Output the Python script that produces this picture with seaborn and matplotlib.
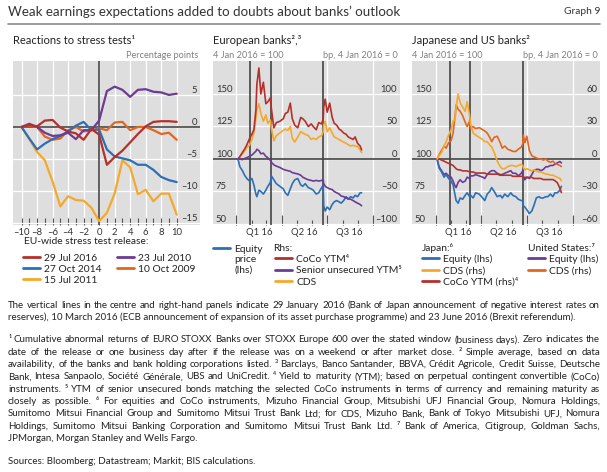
import matplotlib
matplotlib.use("Agg")
import matplotlib.pyplot as plt
import matplotlib.dates as mdates
from matplotlib.lines import Line2D
import numpy as np
import pandas as pd
import seaborn as sns

# ---------------- data ----------------
window_days = list(range(-10, 11))
rel_2016 = [0.0, 0.3, 0.1, 1.0, 1.1, -0.1, -0.7, -1.0, -2.0, -0.3, -1.2, -5.9, -4.7, -3.7, -2.4, -1.1, 0.1, 0.8, 0.9, 0.9, 0.8]
rel_2010 = [0.0, 0.5, 0.0, -0.9, -1.4, -1.3, -0.9, -1.9, -0.5, -0.5, 1.0, 5.6, 6.3, 5.8, 4.7, 5.8, 5.9, 5.5, 5.4, 5.0, 5.2]
rel_2014 = [0.0, -1.8, -3.5, -2.6, -1.9, -1.4, -0.7, 0.2, 0.8, -0.5, -0.4, -3.5, -4.6, -4.9, -5.2, -5.9, -5.9, -6.7, -7.8, -8.3, -8.6]
rel_2009 = [0.0, 0.2, 0.0, -1.5, -2.0, -1.8, -0.5, 0.0, -0.7, -0.5, -0.2, -0.5, 0.7, 0.8, -0.5, 0.0, 0.0, -0.5, -1.1, -0.9, -2.0]
rel_2011 = [0.0, -1.9, -3.9, -5.2, -8.5, -12.4, -10.8, -11.4, -11.5, -12.6, -14.7, -13.4, -10.4, -5.2, -6.3, -10.5, -9.8, -11.6, -10.4, -10.4, -13.7]

dates = ['2016-01-04', '2016-01-08', '2016-01-13', '2016-01-18', '2016-01-22', '2016-01-27',
         '2016-02-01', '2016-02-05', '2016-02-09', '2016-02-11', '2016-02-15', '2016-02-19', '2016-02-24', '2016-02-29',
         '2016-03-04', '2016-03-09', '2016-03-11', '2016-03-16', '2016-03-21', '2016-03-28',
         '2016-04-04', '2016-04-08', '2016-04-13', '2016-04-18', '2016-04-22', '2016-04-27',
         '2016-05-03', '2016-05-09', '2016-05-13', '2016-05-18', '2016-05-24', '2016-05-30',
         '2016-06-03', '2016-06-09', '2016-06-14', '2016-06-20', '2016-06-23', '2016-06-24', '2016-06-27',
         '2016-07-01', '2016-07-06', '2016-07-11', '2016-07-15', '2016-07-20', '2016-07-25', '2016-07-29',
         '2016-08-03', '2016-08-08', '2016-08-12', '2016-08-17', '2016-08-22', '2016-08-26', '2016-08-31',
         '2016-09-05', '2016-09-08']

# European banks
eu_equity = [100, 94, 91, 87, 85, 83,
             85, 80, 73, 71, 76, 75, 73, 76,
             79, 82, 87, 84, 81, 79,
             77, 74, 72, 77, 81, 84,
             85, 80, 79, 81, 78, 77,
             76, 73, 74, 78, 80, 64, 60,
             63, 61, 65, 67, 68, 67, 66,
             68, 71, 69, 71, 70, 72, 71,
             74, 74]
eu_coco = [0, 4, 10, 16, 22, 31,
           38, 45, 75, 115, 140, 100, 118, 85,
           88, 94, 78, 48, 56, 58,
           62, 70, 72, 86, 62, 52,
           48, 64, 62, 58, 50, 54,
           50, 45, 56, 54, 62, 80, 92,
           72, 86, 64, 55, 52, 46, 44,
           40, 38, 34, 32, 30, 34, 24,
           20, 14]
eu_senior = [0, 0, -1, 1, 2, 4,
             6, 9, 12, 15, 13, 8, 9, 4,
             2, -2, -5, -9, -11, -13,
             -16, -17, -18, -19, -21, -22,
             -23, -25, -28, -30, -32, -33,
             -34, -33, -34, -33, -32, -38, -42,
             -44, -46, -47, -50, -52, -54, -57,
             -58, -60, -61, -62, -64, -66, -68,
             -70, -72]
eu_cds = [0, 3, 8, 13, 18, 21,
          30, 40, 62, 75, 85, 70, 58, 68,
          55, 60, 48, 28, 36, 40,
          44, 46, 44, 50, 32, 26,
          34, 42, 40, 38, 36, 30,
          32, 30, 34, 36, 42, 52, 58,
          42, 48, 40, 34, 32, 30, 28,
          26, 24, 22, 20, 21, 20, 19,
          14, 10]

# Japanese and US banks
jp_equity = [100, 93, 90, 86, 88, 85,
             83, 80, 72, 68, 66, 70, 69, 72,
             74, 71, 72, 70, 74, 73,
             70, 68, 73, 75, 78, 75,
             71, 72, 70, 73, 71, 74,
             72, 71, 69, 68, 68, 64, 63,
             61, 58, 60, 64, 70, 71, 70,
             70, 71, 71, 73, 71, 74, 74,
             76, 79]
jp_cds = [0, 3, 6, 12, 16, 22,
          27, 35, 36, 48, 60, 52, 48, 44,
          53, 40, 32, 24, 22, 20,
          18, 16, 16, 13, 11, 6,
          -2, -7, -9, -9, -7, -6,
          -6, -7, -6, -5, -6, -8, -10,
          -9, -10, -11, -10, -11, -12, -12,
          -13, -14, -14, -15, -15, -16, -17,
          -18, -20]
jp_coco = [0, 0, -1, -2, -3, -4,
           -5, -6, -8, -9, -10, -10, -11, -11,
           -11, -12, -12, -12, -13, -13,
           -13, -13, -14, -14, -14, -14,
           -14, -15, -15, -15, -15, -15,
           -16, -16, -16, -16, -16, -17, -17,
           -17, -17, -17, -18, -18, -18, -18,
           -19, -19, -19, -19, -19, -20, -22,
           -27, -31]
us_equity = [100, 94, 91, 88, 89, 87,
             86, 83, 79, 78, 82, 84, 82, 83,
             86, 85, 87, 87, 88, 87,
             86, 85, 88, 90, 91, 91,
             89, 88, 88, 89, 90, 91,
             89, 89, 87, 89, 91, 86, 84,
             86, 85, 88, 91, 92, 92, 91,
             92, 94, 94, 95, 95, 96, 97,
             98, 97]
us_cds = [0, 4, 8, 12, 10, 15,
          17, 24, 40, 50, 46, 44, 40, 34,
          30, 35, 28, 30, 28, 29,
          27, 26, 24, 20, 16, 20,
          21, 15, 10, 12, 9, 8,
          7, 7, 9, 11, 14, 22, 15,
          21, 8, 3, 2, 1, 0, 0,
          -1, 0, -2, -3, -2, -4, -5,
          -6, -7]

event_dates = ['2016-01-29', '2016-03-10', '2016-06-23']
quarter_starts = ['2016-01-01', '2016-04-01', '2016-07-01', '2016-10-01']
month_starts = ['2016-01-01', '2016-02-01', '2016-03-01', '2016-04-01', '2016-05-01', '2016-06-01',
                '2016-07-01', '2016-08-01', '2016-09-01', '2016-10-01']
quarter_mids = ['2016-02-15', '2016-05-16', '2016-08-15']
quarter_labels = ['Q1 16', 'Q2 16', 'Q3 16']

# ---------------- style ----------------
sns.set_theme(style="white")
plt.rcParams["font.family"] = ["Lato", "DejaVu Sans"]
plt.rcParams["axes.unicode_minus"] = False

RED = '#b4302b'
PURPLE = '#6c3b96'
BLUE = '#2d6fb7'
ORANGE = '#e3661f'
GOLD = '#f5a82a'
BG = '#dedede'
TXT = '#333333'
SUB = '#808080'
TICKFS = 6.8
LEGFS = 7.4

W, H = 607, 472
fig = plt.figure(figsize=(W / 100, H / 100), dpi=100)


def fx(x):
    return x / W


def fy(y):
    return 1 - y / H


def rect(x0, y0, x1, y1):
    return [fx(x0), fy(y1), (x1 - x0) / W, (y1 - y0) / H]


def base_style(ax):
    ax.set_facecolor(BG)
    for s in ax.spines.values():
        s.set_visible(False)
    ax.set_axisbelow(True)
    ax.grid(True, which='major', color='white', linewidth=0.9)
    ax.set_xlabel('')
    ax.set_ylabel('')


def dash(v):
    return str(v).replace('-', '\u2013')


# ---------------- panel 1 ----------------
ax1 = fig.add_axes(rect(13, 61, 200, 225))
stress = {"15 Jul 2011": rel_2011, "10 Oct 2009": rel_2009, "27 Oct 2014": rel_2014,
          "23 Jul 2010": rel_2010, "29 Jul 2016": rel_2016}
pal1 = {"15 Jul 2011": GOLD, "10 Oct 2009": ORANGE, "27 Oct 2014": BLUE,
        "23 Jul 2010": PURPLE, "29 Jul 2016": RED}
df1 = pd.concat([pd.DataFrame({"day": window_days, "value": v, "release": k}) for k, v in stress.items()])
sns.lineplot(data=df1, x="day", y="value", hue="release", hue_order=list(stress), palette=pal1,
             estimator=None, linewidth=1.6, legend=False, ax=ax1)
base_style(ax1)
ax1.set_xlim(-11.1, 13.0)
ax1.set_ylim(-15.3, 10.3)
ax1.set_xticks(range(-10, 11, 2))
ax1.set_xticklabels([dash(v) for v in range(-10, 11, 2)])
ax1.set_xticks(range(-10, 11), minor=True)
ax1.tick_params(axis='x', which='both', direction='in', length=5, width=0.8, color='#555555',
                pad=2.5, labelsize=TICKFS, labelcolor=TXT, bottom=True)
ax1.yaxis.tick_right()
ax1.set_yticks([-15, -10, -5, 0, 5])
ax1.set_yticklabels([dash(v) for v in [-15, -10, -5, 0, 5]])
ax1.tick_params(axis='y', length=0, pad=-2, labelsize=TICKFS, labelcolor=TXT)
for t in ax1.get_yticklabels():
    t.set_ha('right')
    t.set_va('bottom')
ax1.axhline(0, color='#555555', lw=1.3, zorder=1.5)
ax1.axvline(0, color='#555555', lw=1.3, zorder=1.5)


# ---------------- panels 2 & 3 ----------------
def date_panel(ax, axr, rlim, rticks):
    base_style(ax)
    for s in axr.spines.values():
        s.set_visible(False)
    axr.grid(False)
    axr.set_xlabel('')
    axr.set_ylabel('')
    ax.set_xlim(mdates.date2num(pd.Timestamp('2015-11-15')), mdates.date2num(pd.Timestamp('2016-11-24')))
    ax.set_ylim(49.2, 175.4)
    axr.set_ylim(*rlim)
    ax.set_xticks(mdates.date2num(pd.to_datetime(quarter_starts)))
    ax.set_xticks(mdates.date2num(pd.to_datetime(month_starts)), minor=True)
    ax.tick_params(axis='x', which='major', direction='in', length=7, width=0.8, color='#555555',
                   labelbottom=False, bottom=True)
    ax.tick_params(axis='x', which='minor', direction='in', length=3.5, width=0.8, color='#555555',
                   labelbottom=False, bottom=True)
    ax.set_yticks([50, 75, 100, 125, 150])
    ax.set_yticklabels(['50', '75', '100', '125', '150'])
    ax.tick_params(axis='y', length=0, pad=-2, labelsize=TICKFS, labelcolor=TXT)
    for t in ax.get_yticklabels():
        t.set_ha('left')
        t.set_va('bottom')
    axr.set_yticks(rticks)
    axr.set_yticklabels([dash(v) for v in rticks])
    axr.tick_params(axis='y', length=0, pad=-2, labelsize=TICKFS, labelcolor=TXT)
    for t in axr.get_yticklabels():
        t.set_ha('right')
        t.set_va('bottom')
    ax.axhline(100, color='#444444', lw=1.2, zorder=1.5)
    for d in event_dates:
        ax.axvline(mdates.date2num(pd.Timestamp(d)), color='#444444', lw=1.2, zorder=1.5)
    for d, s in zip(quarter_mids, quarter_labels):
        ax.text(mdates.date2num(pd.Timestamp(d)), -7.5 / 164, s, transform=ax.get_xaxis_transform(),
                ha='center', va='center', fontsize=TICKFS, color=TXT)


dt = pd.to_datetime(dates)

ax2 = fig.add_axes(rect(213, 61, 400, 225))
ax2r = ax2.twinx()
eu_l = pd.DataFrame({"date": dt, "value": eu_equity})
sns.lineplot(data=eu_l, x="date", y="value", color=BLUE, linewidth=1.2, estimator=None, ax=ax2)
eu_r_series = {"CDS": eu_cds, "CoCo YTM": eu_coco, "Senior unsecured YTM": eu_senior}
eu_r = pd.concat([pd.DataFrame({"date": dt, "value": v, "series": k}) for k, v in eu_r_series.items()])
sns.lineplot(data=eu_r, x="date", y="value", hue="series", hue_order=list(eu_r_series),
             palette={"CDS": GOLD, "CoCo YTM": RED, "Senior unsecured YTM": PURPLE},
             linewidth=1.2, estimator=None, legend=False, ax=ax2r)
date_panel(ax2, ax2r, (-101.6, 150.8), [-100, -50, 0, 50, 100])

ax3 = fig.add_axes(rect(412, 61, 600, 225))
ax3r = ax3.twinx()
lhs3 = {"US equity": us_equity, "Japan equity": jp_equity}
df3l = pd.concat([pd.DataFrame({"date": dt, "value": v, "series": k}) for k, v in lhs3.items()])
sns.lineplot(data=df3l, x="date", y="value", hue="series", hue_order=list(lhs3),
             palette={"US equity": PURPLE, "Japan equity": BLUE},
             linewidth=1.2, estimator=None, legend=False, ax=ax3)
rhs3 = {"Japan CoCo YTM": jp_coco, "US CDS": us_cds, "Japan CDS": jp_cds}
df3r = pd.concat([pd.DataFrame({"date": dt, "value": v, "series": k}) for k, v in rhs3.items()])
sns.lineplot(data=df3r, x="date", y="value", hue="series", hue_order=list(rhs3),
             palette={"Japan CoCo YTM": RED, "US CDS": ORANGE, "Japan CDS": GOLD},
             linewidth=1.2, estimator=None, legend=False, ax=ax3r)
date_panel(ax3, ax3r, (-60.96, 90.48), [-60, -30, 0, 30, 60])

# ---------------- titles ----------------
fig.text(fx(8), fy(12), "Weak earnings expectations added to doubts about banks\u2019 outlook",
         fontsize=9.6, color=TXT, va='center', ha='left')
fig.text(fx(600), fy(12), "Graph 9", fontsize=7.4, color=TXT, va='center', ha='right')
fig.add_artist(Line2D([fx(8), fx(600)], [fy(24), fy(24)], color='#8a8a8a', lw=1.2))

fig.text(fx(13), fy(40), "Reactions to stress tests\u00b9", fontsize=8.0, color='#222222', va='center')
fig.text(fx(213), fy(40), "European banks\u00b2,\u00b3", fontsize=8.0, color='#222222', va='center')
fig.text(fx(412), fy(40), "Japanese and US banks\u00b2", fontsize=8.0, color='#222222', va='center')

fig.text(fx(198), fy(55), "Percentage points", fontsize=6.6, color=SUB, va='center', ha='right')
fig.text(fx(213), fy(55), "4 Jan 2016 = 100", fontsize=6.6, color=SUB, va='center', ha='left')
fig.text(fx(398), fy(55), "bp, 4 Jan 2016 = 0", fontsize=6.6, color=SUB, va='center', ha='right')
fig.text(fx(412), fy(55), "4 Jan 2016 = 100", fontsize=6.6, color=SUB, va='center', ha='left')
fig.text(fx(598), fy(55), "bp, 4 Jan 2016 = 0", fontsize=6.6, color=SUB, va='center', ha='right')


# ---------------- legends ----------------
def leg(color, label, x, y):
    h = Line2D([], [], color=color, lw=2.0)
    fig.legend([h], [label], loc='center left', bbox_to_anchor=(fx(x), fy(y)), frameon=False,
               borderpad=0, borderaxespad=0, handlelength=1.65, handletextpad=0.4,
               fontsize=LEGFS, labelcolor='#222222')


def ftxt(x, y, s, **kw):
    fig.text(fx(x), fy(y), s, fontsize=kw.pop('fontsize', LEGFS), color=kw.pop('color', '#222222'),
             va='center', ha='left', **kw)


ftxt(24, 242, "EU-wide stress test release:")
leg(RED, "29 Jul 2016", 23, 258)
leg(BLUE, "27 Oct 2014", 23, 269)
leg(GOLD, "15 Jul 2011", 23, 280)
leg(PURPLE, "23 Jul 2010", 117, 258)
leg(ORANGE, "10 Oct 2009", 117, 269)

leg(BLUE, "Equity", 213, 249)
ftxt(234.5, 259.5, "price")
ftxt(234.5, 270.5, "(lhs)")
ftxt(273, 248, "Rhs:")
leg(RED, "CoCo YTM\u2074", 275, 259)
leg(PURPLE, "Senior unsecured YTM\u2075", 275, 270.5)
leg(GOLD, "CDS", 275, 282)

ftxt(422, 248, "Japan:\u2076")
leg(BLUE, "Equity (lhs)", 422, 259)
leg(GOLD, "CDS (rhs)", 422, 270.5)
leg(RED, "CoCo YTM (rhs)\u2074", 422, 282)
ftxt(528, 248, "United States:\u2077")
leg(PURPLE, "Equity (lhs)", 528, 259)
leg(ORANGE, "CDS (rhs)", 528, 270.5)

# ---------------- footnotes ----------------
notes = [
    ("The vertical lines in the centre and right-hand panels indicate 29 January 2016 (Bank of Japan announcement of negative interest rates on", 305, True),
    ("reserves), 10 March 2016 (ECB announcement of expansion of its asset purchase programme) and 23 June 2016 (Brexit referendum).", 317.5, False),
    ("\u00b9 Cumulative abnormal returns of EURO STOXX Banks over STOXX Europe 600 over the stated window (business days). Zero indicates the", 340, True),
    ("date of the release or one business day after if the release was on a weekend or after market close.  \u00b2 Simple average, based on data", 352.3, True),
    ("availability, of the banks and bank holding corporations listed.  \u00b3 Barclays, Banco Santander, BBVA, Cr\u00e9dit Agricole, Credit Suisse, Deutsche", 364.6, True),
    ("Bank, Intesa Sanpaolo, Soci\u00e9t\u00e9 G\u00e9n\u00e9rale, UBS and UniCredit.  \u2074 Yield to maturity (YTM); based on perpetual contingent convertible (CoCo)", 376.9, True),
    ("instruments.  \u2075 YTM of senior unsecured bonds matching the selected CoCo instruments in terms of currency and remaining maturity as", 389.2, True),
    ("closely as possible.  \u2076 For equities and CoCo instruments, Mizuho Financial Group, Mitsubishi UFJ Financial Group, Nomura Holdings,", 401.5, True),
    ("Sumitomo Mitsui Financial Group and Sumitomo Mitsui Trust Bank Ltd; for CDS, Mizuho Bank, Bank of Tokyo Mitsubishi UFJ, Nomura", 413.8, True),
    ("Holdings, Sumitomo Mitsui Banking Corporation and Sumitomo Mitsui Trust Bank Ltd.  \u2077 Bank of America, Citigroup, Goldman Sachs,", 426.1, True),
    ("JPMorgan, Morgan Stanley and Wells Fargo.", 438.4, False),
    ("Sources: Bloomberg; Datastream; Markit; BIS calculations.", 461, False),
]

renderer = fig.canvas.get_renderer()
FN = 7.0
for line, y, just in notes:
    if not just:
        fig.text(fx(8), fy(y), line, fontsize=FN, color='#222222', va='center', ha='left')
        continue
    words = line.split()
    fs = FN
    while True:
        ts = [fig.text(0, fy(y), w, fontsize=fs, color='#222222', va='center', ha='left') for w in words]
        widths = [t.get_window_extent(renderer).width for t in ts]
        gap = (600 - 8 - sum(widths)) / (len(words) - 1)
        if gap >= 1.8 or fs <= 5.5:
            break
        for t in ts:
            t.remove()
        fs -= 0.1
    x = 8.0
    for t, w in zip(ts, widths):
        t.set_x(fx(x))
        x += w + gap

fig.savefig("out.png", dpi=100)
